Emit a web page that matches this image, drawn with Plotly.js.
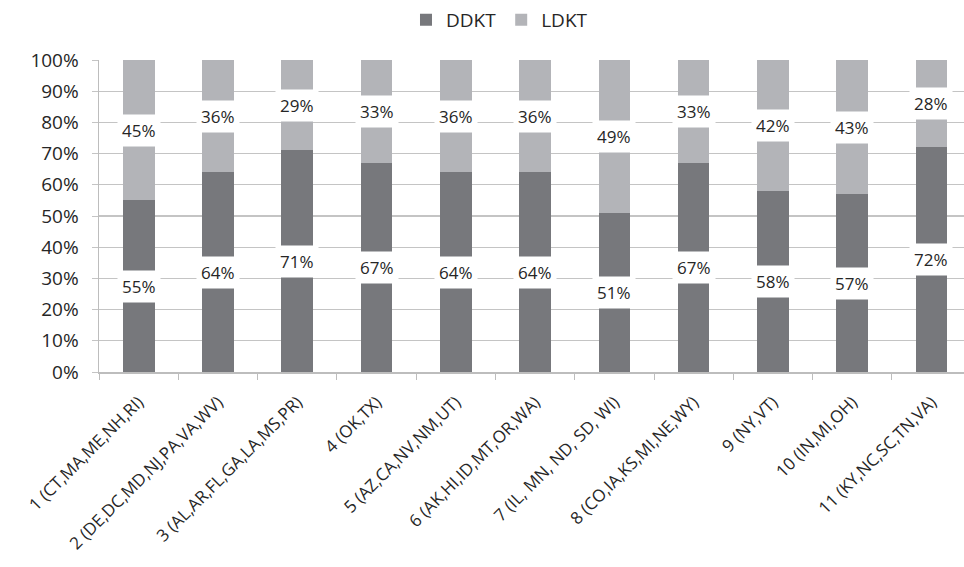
<!DOCTYPE html>
<html>
<head>
<meta charset="utf-8">
<script src="https://cdn.plot.ly/plotly-3.0.1.min.js"></script>
<style>html,body{margin:0;padding:0;background:#fff;}#chart{width:964px;height:567px;}</style>
</head>
<body>
<div id="chart"></div>
<script>
const categories = ["1 (CT,MA,ME,NH,RI)", "2 (DE,DC,MD,NJ,PA,VA,WV)", "3 (AL,AR,FL,GA,LA,MS,PR)", "4 (OK,TX)", "5 (AZ,CA,NV,NM,UT)", "6 (AK,HI,ID,MT,OR,WA)", "7 (IL, MN, ND, SD, WI)", "8 (CO,IA,KS,MI,NE,WY)", "9 (NY,VT)", "10 (IN,MI,OH)", "11 (KY,NC,SC,TN,VA)"];
const ddkt = [55, 64, 71, 67, 64, 64, 51, 67, 58, 57, 72];
const ldkt = [45, 36, 29, 33, 36, 36, 49, 33, 42, 43, 28];
const yTickVals = [0, 10, 20, 30, 40, 50, 60, 70, 80, 90, 100];

const darkCol = "#77787c";
const lightCol = "#b3b4b8";
const textCol = "#262626";
const font = "Open Sans, Lato, sans-serif";

const traces = [
  {type: "bar", name: "DDKT", x: categories, y: ddkt, marker: {color: darkCol}, width: 0.4, hoverinfo: "skip"},
  {type: "bar", name: "LDKT", x: categories, y: ldkt, marker: {color: lightCol}, width: 0.4, hoverinfo: "skip"}
];

const annotations = [];
categories.forEach((c, i) => {
  annotations.push({x: c, y: ddkt[i] / 2, xref: "x", yref: "y", text: ddkt[i] + "%", showarrow: false,
    bgcolor: "#ffffff", borderpad: 4, font: {family: font, size: 17, color: textCol}});
  annotations.push({x: c, y: ddkt[i] + ldkt[i] / 2, xref: "x", yref: "y", text: ldkt[i] + "%", showarrow: false,
    bgcolor: "#ffffff", borderpad: 4, font: {family: font, size: 17, color: textCol}});
});

const layout = {
  width: 964, height: 567,
  margin: {l: 99, r: 0, t: 60, b: 195, pad: 0},
  paper_bgcolor: "#ffffff", plot_bgcolor: "#ffffff",
  barmode: "stack",
  showlegend: true,
  legend: {orientation: "h", traceorder: "normal", itemwidth: 30, x: 0.463, xanchor: "center", yref: "container", y: 0.965, yanchor: "middle",
    font: {family: font, size: 19, color: textCol}, itemclick: false},
  xaxis: {
    type: "category", range: [-0.5, 10.41], tickangle: -45, tickson: "boundaries",
    ticks: "outside", ticklen: 6, tickcolor: "#bdbdbd", showline: true, linecolor: "#bdbdbd", linewidth: 1.5,
    showgrid: false, ticklabelstandoff: 12, tickfont: {family: font, size: 17, color: textCol}, automargin: false
  },
  yaxis: {
    range: [0, 100], tickvals: yTickVals, ticktext: yTickVals.map(v => v + "%"),
    ticks: "outside", ticklen: 6, tickcolor: "#c4c4c4", showline: true, linecolor: "#bdbdbd", linewidth: 1.5,
    showgrid: true, gridcolor: "#c4c4c4", gridwidth: 1.2, zeroline: false, ticklabelstandoff: 9,
    tickfont: {family: font, size: 19, color: textCol}, automargin: false
  },
  annotations: annotations
};

Plotly.newPlot("chart", traces, layout, {displayModeBar: false, staticPlot: true});
</script>
</body>
</html>
